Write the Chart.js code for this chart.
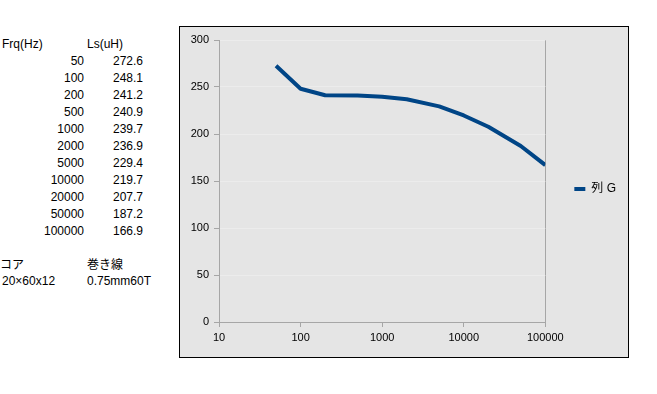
<!DOCTYPE html>
<html>
<head>
<meta charset="utf-8">
<script src="https://cdn.jsdelivr.net/npm/chart.js@4/dist/chart.umd.min.js"></script>
<style>
body { margin: 0; background: #fff; width: 657px; height: 394px; position: relative; overflow: hidden;
  font-family: 'Liberation Sans', 'Noto Sans CJK JP', sans-serif; font-size: 12px; color: #000; }
.t { position: absolute; line-height: 14px; white-space: nowrap; }
#box { position: absolute; left: 179px; top: 26px; width: 450px; height: 332px; box-sizing: border-box;
  border: 1px solid #000; background: #e5e5e5; }
#cv { display: block; }
</style>
</head>
<body>
<div id="table"></div>
<div id="box"><canvas id="cv" width="448" height="330"></canvas></div>
<script>
// data
var freqs = [50, 100, 200, 500, 1000, 2000, 5000, 10000, 20000, 50000, 100000];
var lsValues = [272.6, 248.1, 241.2, 240.9, 239.7, 236.9, 229.4, 219.7, 207.7, 187.2, 166.9];
var xTicks = [10, 100, 1000, 10000, 100000];
var seriesName = '列 G';
var headers = ['Frq(Hz)', 'Ls(uH)'];
var notes = [['コア', '巻き線'], ['20×60x12', '0.75mm60T']];

var $ = function(sel) {
    return document.querySelector(sel);
}

function addText(txt, left, cy, right) {
    var d = document.createElement('div');
    d.className = 't';
    d.textContent = txt;
    d.style.top = (cy - 7) + 'px';
    if (right != null) {
        d.style.left = '0px';
        d.style.width = right + 'px';
        d.style.textAlign = 'right';
    } else {
        d.style.left = left + 'px';
    }
    $('#table').appendChild(d);
}

// left side sheet cells
addText(headers[0], 2, 44);
addText(headers[1], 87, 44);
for (var i = 0; i < freqs.length; i++) {
    addText(String(freqs[i]), 0, 61 + i * 17, 84);
    addText(lsValues[i].toFixed(1), 0, 61 + i * 17, 143);
}
addText(notes[0][0], 0, 265);
addText(notes[0][1], 87, 265);
addText(notes[1][0], 2, 281);
addText(notes[1][1], 87, 281);

var points = freqs.map(function(f, i) {
    return { x: f, y: lsValues[i] };
});

var axisGray = '#a6a6a6';
var tickFont = { family: "'Liberation Sans', sans-serif", size: 11 };

var ctx = $('#cv').getContext('2d');
var chart = new Chart(ctx, {
    type: 'line',
    data: {
        datasets: [{
            label: seriesName,
            data: points,
            borderColor: '#004586',
            backgroundColor: '#004586',
            borderWidth: 4,
            pointRadius: 0,
            tension: 0,
            borderJoinStyle: 'round'
        }]
    },
    options: {
        responsive: false,
        animation: false,
        devicePixelRatio: 1,
        layout: { padding: { left: 0, top: 13, right: 2, bottom: 0 } },
        plugins: {
            tooltip: { enabled: false },
            legend: {
                position: 'right',
                align: 'start',
                // empty title used as a spacer so the item sits at mid height
                title: { display: true, text: '', padding: { top: 100, bottom: 0 }, font: { size: 12, lineHeight: 14 / 12 } },
                labels: {
                    boxWidth: 11,
                    boxHeight: 4,
                    padding: 29,
                    color: '#000',
                    font: { family: "'Liberation Sans', 'Noto Sans CJK JP', sans-serif", size: 12 },
                    generateLabels: function(c) {
                        var items = Chart.defaults.plugins.legend.labels.generateLabels(c);
                        items.forEach(function(it) {
                            it.lineWidth = 0;
                            it.fillStyle = '#004586';
                        });
                        return items;
                    }
                }
            }
        },
        scales: {
            x: {
                type: 'logarithmic',
                min: xTicks[0],
                max: xTicks[xTicks.length - 1],
                afterFit: function(s) { s.height = 35; },
                afterBuildTicks: function(s) {
                    s.ticks = xTicks.map(function(v) { return { value: v }; });
                },
                ticks: {
                    color: '#000',
                    font: tickFont,
                    padding: 4,
                    maxRotation: 0,
                    autoSkip: false,
                    callback: function(v) { return String(v); }
                },
                grid: {
                    color: function(c) {
                        return c.tick && c.tick.value === xTicks[xTicks.length - 1] ? axisGray : 'rgba(0,0,0,0)';
                    },
                    tickColor: axisGray,
                    tickLength: 5
                },
                border: { color: axisGray }
            },
            y: {
                min: 0,
                max: 300,
                afterFit: function(s) { s.width = 39; },
                ticks: { stepSize: 50, color: '#000', font: tickFont, padding: 5 },
                grid: { color: '#ececec', tickColor: axisGray, tickLength: 5 },
                border: { color: axisGray }
            }
        }
    }
});
</script>
</body>
</html>
